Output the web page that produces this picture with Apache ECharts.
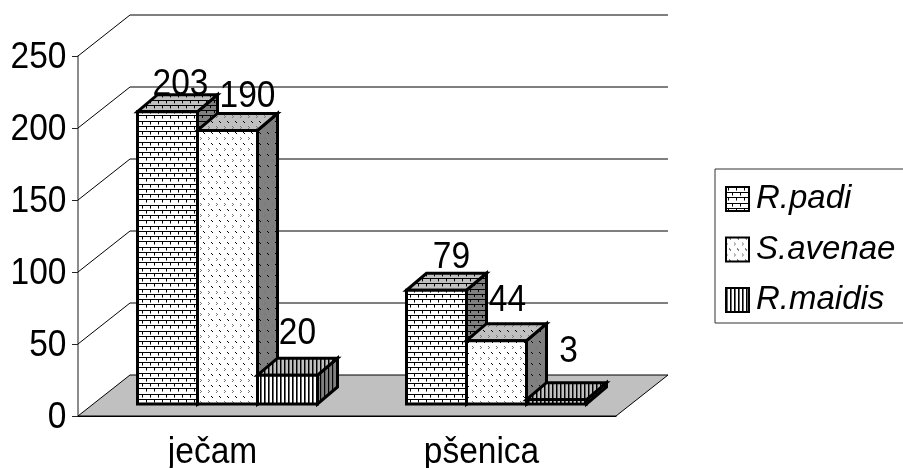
<!DOCTYPE html>
<html>
<head>
<meta charset="utf-8">
<style>html,body{margin:0;padding:0;background:#fff}#chart{width:903px;height:468px}</style>
<script src="https://cdn.jsdelivr.net/npm/echarts@6/dist/echarts.min.js"></script>
</head>
<body>
<div id="chart"></div>
<script>
// Aphid counts on two cereal crops
const categories = ['ječam', 'pšenica'];
const speciesNames = ['R.padi', 'S.avenae', 'R.maidis'];
const rPadi = [203, 79];
const sAvenae = [190, 44];
const rMaidis = [20, 3];
const valueTicks = [0, 50, 100, 150, 200, 250];

// Oblique projection of the chart box, in pixels
const WALL_DX = 52, WALL_DY = -41;
const FRONT_DX = 15, FRONT_DY = -12;
const BAR_DX = 20, BAR_DY = -17;
const BAR_WIDTH = 60;
const FONT = '"Liberation Sans", Arial, sans-serif';
const FONT_SIZE = 33.5;
const TEXT_STRETCH = 1.12;
// Label offsets from each bar's front top centre, per species and crop
const labelNudgeX = [[13, 15], [20, 11], [10, 12]];
const labelNudgeY = [[-8, -14], [-15, -21], [-23, -29]];

// Tall, slightly stretched text anchored at its bottom edge
function tallText(text, x, y, align) {
  return {
    type: 'text', x: x, y: y, scaleY: TEXT_STRETCH, z2: 10,
    style: {
      text: text, x: 0, y: 0, align: align, verticalAlign: 'bottom',
      fill: '#000', font: FONT_SIZE + 'px ' + FONT
    }
  };
}

function tile(w, h, bg, draw) {
  const c = document.createElement('canvas');
  c.width = w; c.height = h;
  const g = c.getContext('2d');
  g.fillStyle = bg; g.fillRect(0, 0, w, h);
  g.fillStyle = '#000';
  draw(g);
  return { image: c, repeat: 'repeat' };
}
const brick = g => {
  [0, 5, 10, 16].forEach((y, row) => {
    g.fillStyle = '#000';
    g.fillRect(0, y, 8, 1);
    const x = row % 2 ? 6 : 2;
    g.fillRect(x, y + 1, 1, 2);
    g.fillStyle = '#777';
    g.fillRect(x, y + 3, 1, 1);
  });
};
const dots = g => {
  g.fillRect(3, 0, 1, 1); g.fillRect(4, 1, 1, 1);
  g.fillStyle = '#777';
  g.fillRect(0, 5, 1, 1); g.fillRect(1, 6, 1, 1); g.fillRect(0, 7, 1, 1);
};
const stripes = g => {
  g.fillRect(0, 0, 1, 1);
  g.fillStyle = '#666';
  g.fillRect(1, 0, 1, 1);
};
function faces(w, h, draw) {
  return [tile(w, h, '#fff', draw), tile(w, h, '#c0c0c0', draw), tile(w, h, '#808080', draw)];
}
const fills = [faces(8, 21, brick), faces(8, 11, dots), faces(4, 1, stripes)];

function renderBar(speciesIndex) {
  return function (params, api) {
    const top = api.coord([api.value(0), api.value(1)]);
    const base = api.coord([api.value(0), 0]);
    const offset = (speciesIndex - 1.5) * BAR_WIDTH + FRONT_DX;
    const x0 = top[0] + offset, x1 = x0 + BAR_WIDTH;
    const y0 = top[1] + FRONT_DY, y1 = base[1] + FRONT_DY;
    const edge = { stroke: '#000', lineWidth: 3, lineJoin: 'miter' };
    const f = fills[speciesIndex];
    const poly = (points, fill) => ({
      type: 'polygon', shape: { points: points },
      style: Object.assign({ fill: fill }, edge)
    });
    return {
      type: 'group',
      children: [
        poly([[x1, y0], [x1 + BAR_DX, y0 + BAR_DY], [x1 + BAR_DX, y1 + BAR_DY], [x1, y1]], f[2]),
        poly([[x0, y0], [x0 + BAR_DX, y0 + BAR_DY], [x1 + BAR_DX, y0 + BAR_DY], [x1, y0]], f[1]),
        poly([[x0, y0], [x1, y0], [x1, y1], [x0, y1]], f[0]),
        tallText(
          String(api.value(1)),
          x0 + BAR_WIDTH / 2 + labelNudgeX[speciesIndex][params.dataIndex],
          y0 + labelNudgeY[speciesIndex][params.dataIndex],
          'center'
        )
      ]
    };
  };
}

// Back wall gridlines and value labels, with the grey floor at value 0
function renderWall(params, api) {
  const area = params.coordSys;
  const value = api.value(0);
  const y = api.coord([0, value])[1];
  const left = area.x, right = area.x + area.width;
  const wall = value === 0
    ? {
        type: 'polygon',
        shape: { points: [[left, y], [right, y], [right + WALL_DX, y + WALL_DY], [left + WALL_DX, y + WALL_DY]] },
        style: { fill: '#c0c0c0', stroke: '#000', lineWidth: 1 }
      }
    : {
        type: 'polyline',
        shape: { points: [[left, y], [left + WALL_DX, y + WALL_DY], [right + WALL_DX, y + WALL_DY]] },
        style: { fill: null, stroke: '#000', lineWidth: 1 }
      };
  return {
    type: 'group',
    children: [wall, tallText(String(value), left - 11.5, y + 20.5, 'right')]
  };
}

// Crop names under the axis
function renderCategory(params, api) {
  const p = api.coord([api.value(0), 0]);
  return tallText(categories[params.dataIndex], p[0], p[1] + 55.5, 'center');
}

const seriesValues = [rPadi, sAvenae, rMaidis];
const chart = echarts.init(document.getElementById('chart'), null, { renderer: 'canvas' });
chart.setOption({
  animation: false,
  backgroundColor: '#fff',
  grid: { left: 78, top: 56, width: 538, height: 360, outerBoundsMode: 'none' },
  xAxis: {
    type: 'category',
    data: categories,
    axisLine: { lineStyle: { color: '#000', width: 1 } },
    axisTick: { length: 7, lineStyle: { color: '#000' } },
    axisLabel: { show: false }
  },
  yAxis: {
    type: 'value', min: 0, max: 250, interval: 50,
    splitLine: { show: false },
    axisLine: { show: true, lineStyle: { color: '#666', width: 1.5 } },
    axisTick: { show: true, length: 6, lineStyle: { color: '#222' } },
    axisLabel: { show: false }
  },
  legend: {
    orient: 'vertical',
    left: 715, top: 169,
    padding: [13.5, 9, 6.5, 10],
    itemWidth: 23, itemHeight: 24, itemGap: 17.5,
    borderColor: '#333', borderWidth: 1,
    backgroundColor: '#fff',
    icon: 'rect',
    textStyle: { color: '#000', fontSize: 33, fontStyle: 'italic', fontFamily: FONT, padding: [0, 0, 0, 2] },
    data: speciesNames.map((name, i) => ({
      name: name,
      itemStyle: { color: fills[i][0], borderColor: '#000', borderWidth: 2 }
    }))
  },
  series: [
    {
      type: 'custom', name: 'wall', silent: true, z: 1,
      renderItem: renderWall,
      encode: { y: 0 },
      data: valueTicks.map(v => [v])
    },
    {
      type: 'custom', name: 'crops', silent: true, z: 1,
      renderItem: renderCategory,
      encode: { x: 0 },
      data: categories.map((c, k) => [k])
    }
  ].concat(speciesNames.map((name, i) => ({
    type: 'custom', name: name, z: 2 + i,
    renderItem: renderBar(i),
    encode: { x: 0, y: 1 },
    itemStyle: { color: fills[i][0] },
    data: categories.map((c, k) => [k, seriesValues[i][k]])
  })))
});
</script>
</body>
</html>
